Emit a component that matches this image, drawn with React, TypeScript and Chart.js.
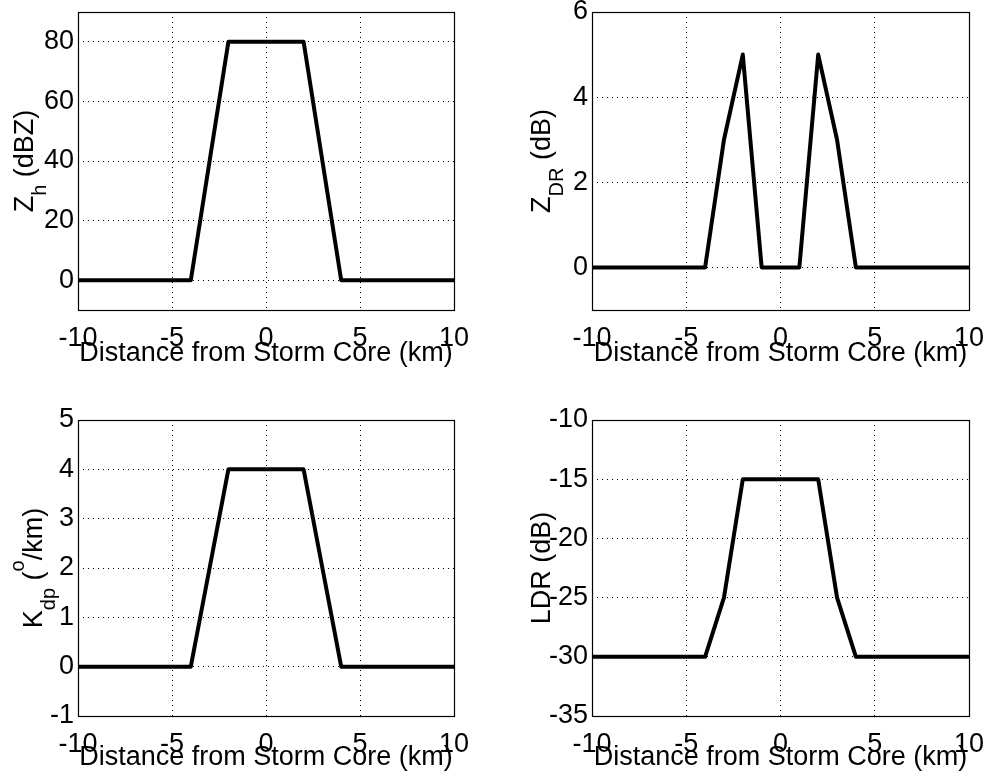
import React, { useEffect, useRef } from "react";
import { Chart, registerables } from "chart.js";

Chart.register(...registerables);

// ---------- data ----------
const X_KM = [-10, -9, -8, -7, -6, -5, -4, -3, -2, -1, 0, 1, 2, 3, 4, 5, 6, 7, 8, 9, 10];
const ZH_DBZ = [0, 0, 0, 0, 0, 0, 0, 40, 80, 80, 80, 80, 80, 40, 0, 0, 0, 0, 0, 0, 0];
const ZDR_DB = [0, 0, 0, 0, 0, 0, 0, 3, 5, 0, 0, 0, 5, 3, 0, 0, 0, 0, 0, 0, 0];
const KDP_DEG_PER_KM = [0, 0, 0, 0, 0, 0, 0, 2, 4, 4, 4, 4, 4, 2, 0, 0, 0, 0, 0, 0, 0];
const LDR_DB = [-30, -30, -30, -30, -30, -30, -30, -25, -15, -15, -15, -15, -15, -25, -30, -30, -30, -30, -30, -30, -30];

const X_TICKS = [-10, -5, 0, 5, 10];
const ZH_TICKS = [0, 20, 40, 60, 80];
const ZDR_TICKS = [0, 2, 4, 6];
const KDP_TICKS = [-1, 0, 1, 2, 3, 4, 5];
const LDR_TICKS = [-35, -30, -25, -20, -15, -10];

const X_TITLE = "Distance from Storm Core (km)";
type Seg = [string, "n" | "sub" | "sup"];
const ZH_TITLE: Seg[] = [["Z", "n"], ["h", "sub"], [" (dBZ)", "n"]];
const ZDR_TITLE: Seg[] = [["Z", "n"], ["DR", "sub"], [" (dB)", "n"]];
const KDP_TITLE: Seg[] = [["K", "n"], ["dp", "sub"], [" (", "n"], ["o", "sup"], ["/km)", "n"]];
const LDR_TITLE: Seg[] = [["LDR (dB)", "n"]];

const FONT = "'Liberation Sans', Arial, Helvetica, sans-serif";
const FS = 27;
const FS_SMALL = 20;

interface Panel {
  left: number; top: number; w: number; h: number;
  area: { l: number; t: number; r: number; b: number };
  yMin: number; yMax: number; yTicks: number[];
  values: number[]; title: Seg[]; titleX: number; xGap: number;
}

const PANELS: Panel[] = [
  { left: 0, top: 0, w: 490, h: 390, area: { l: 78, t: 12, r: 454, b: 310 }, yMin: -10, yMax: 90, yTicks: ZH_TICKS, values: ZH_DBZ, title: ZH_TITLE, titleX: 33, xGap: 51 },
  { left: 490, top: 0, w: 495, h: 390, area: { l: 102, t: 12, r: 479, b: 310 }, yMin: -1, yMax: 6, yTicks: ZDR_TICKS, values: ZDR_DB, title: ZDR_TITLE, titleX: 60, xGap: 51 },
  { left: 0, top: 390, w: 490, h: 387, area: { l: 78, t: 30, r: 454, b: 326 }, yMin: -1, yMax: 5, yTicks: KDP_TICKS, values: KDP_DEG_PER_KM, title: KDP_TITLE, titleX: 42, xGap: 49 },
  { left: 490, top: 390, w: 495, h: 387, area: { l: 102, t: 30, r: 479, b: 326 }, yMin: -35, yMax: -10, yTicks: LDR_TICKS, values: LDR_DB, title: LDR_TITLE, titleX: 60, xGap: 49 },
];

function PanelChart({ p }: { p: Panel }) {
  const ref = useRef<HTMLCanvasElement | null>(null);
  useEffect(() => {
    if (!ref.current) return;
    const decor = {
      id: "panelDecor",
      beforeDatasetsDraw(chart: any) {
        const ctx = chart.ctx;
        const a = chart.chartArea;
        ctx.save();
        ctx.strokeStyle = "#000";
        ctx.lineWidth = 1.2;
        ctx.setLineDash([]);
        ctx.strokeRect(Math.round(a.left) + 0.5, Math.round(a.top) + 0.5, Math.round(a.right - a.left), Math.round(a.bottom - a.top));
        ctx.restore();
      },
      afterDraw(chart: any) {
        const ctx = chart.ctx;
        const a = chart.chartArea;
        ctx.save();
        ctx.fillStyle = "#000";
        ctx.font = `${FS}px ${FONT}`;
        ctx.textAlign = "center";
        ctx.textBaseline = "alphabetic";
        ctx.fillText(X_TITLE, (a.left + a.right) / 2, a.bottom + p.xGap);
        // y title with sub/superscripts
        ctx.translate(p.titleX, (a.top + a.bottom) / 2);
        ctx.rotate(-Math.PI / 2);
        ctx.textAlign = "left";
        const fontOf = (k: string) => (k === "n" ? `${FS}px ${FONT}` : `${FS_SMALL}px ${FONT}`);
        let total = 0;
        const widths = p.title.map(([t, k]) => {
          ctx.font = fontOf(k);
          const w = ctx.measureText(t).width;
          total += w;
          return w;
        });
        let x = -total / 2;
        p.title.forEach(([t, k], i) => {
          ctx.font = fontOf(k);
          const dy = k === "sub" ? 13 : k === "sup" ? -18 : 0;
          ctx.fillText(t, x, dy);
          x += widths[i];
        });
        ctx.restore();
      },
    };
    const tickFont = { family: FONT, size: FS };
    const chart = new Chart(ref.current, {
      type: "line",
      data: {
        datasets: [
          {
            data: X_KM.map((x, i) => ({ x, y: p.values[i] })),
            borderColor: "#000",
            borderWidth: 4,
            borderJoinStyle: "round",
            borderCapStyle: "butt",
            pointRadius: 0,
            tension: 0,
            fill: false,
          },
        ],
      },
      options: {
        animation: false,
        responsive: false,
        events: [],
        layout: { padding: { left: 0, top: p.area.t, right: p.w - p.area.r, bottom: 0 } },
        plugins: { legend: { display: false }, tooltip: { enabled: false } },
        scales: {
          x: {
            type: "linear",
            min: -10,
            max: 10,
            afterBuildTicks: (s: any) => { s.ticks = X_TICKS.map((v) => ({ value: v })); },
            afterFit: (s: any) => { s.height = p.h - p.area.b; s.paddingLeft = 0; s.paddingRight = 0; },
            grid: { color: "#000", lineWidth: 1, drawTicks: false },
            border: { display: false, dash: [1, 4] },
            ticks: { color: "#000", font: tickFont, padding: 12, maxRotation: 0, autoSkip: false },
          },
          y: {
            type: "linear",
            min: p.yMin,
            max: p.yMax,
            afterBuildTicks: (s: any) => { s.ticks = p.yTicks.map((v) => ({ value: v })); },
            afterFit: (s: any) => { s.width = p.area.l; s.paddingTop = 0; s.paddingBottom = 0; },
            grid: { color: "#000", lineWidth: 1, drawTicks: false },
            border: { display: false, dash: [1, 4] },
            ticks: { color: "#000", font: tickFont, padding: 4, autoSkip: false },
          },
        },
      },
      plugins: [decor],
    } as any);
    return () => chart.destroy();
  }, [p]);
  return (
    <div style={{ position: "absolute", left: p.left, top: p.top, width: p.w, height: p.h }}>
      <canvas ref={ref} width={p.w} height={p.h} style={{ display: "block" }} />
    </div>
  );
}

export default function App() {
  return (
    <div style={{ background: "#fff" }}>
      {PANELS.map((p, i) => (
        <PanelChart key={i} p={p} />
      ))}
    </div>
  );
}
